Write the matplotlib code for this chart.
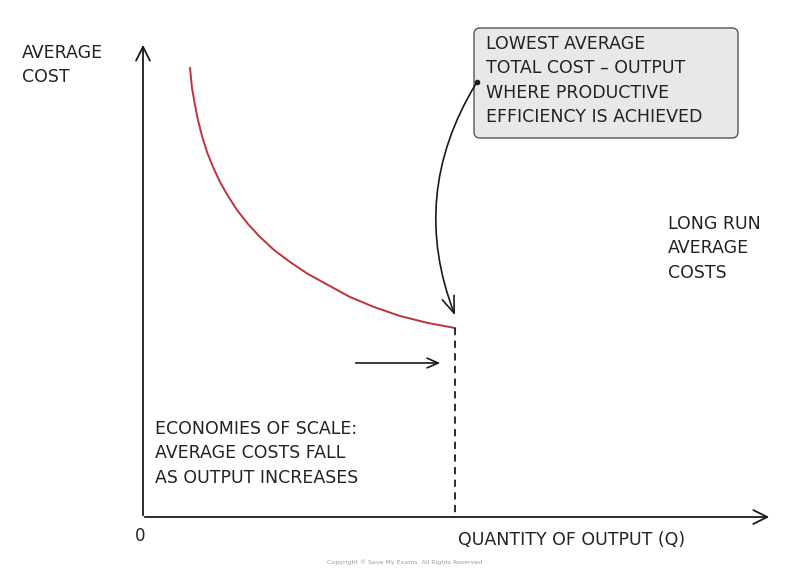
import matplotlib
matplotlib.use("Agg")
import matplotlib.pyplot as plt
from matplotlib.patches import FancyBboxPatch

# Long run average cost curve (pixel-like units: x right, y down)
quantity = [190, 192, 195, 198, 202, 207, 213, 220, 228, 237, 248, 260, 274, 290, 308, 328, 350, 374, 400, 428, 455]
avg_cost = [68, 88, 105, 120, 136, 152, 167, 182, 196, 210, 224, 237, 250, 262, 274, 285, 297, 307, 316, 323, 328]
min_q = 455
min_c = 328

fig = plt.figure(figsize=(8, 5.72), dpi=100)
ax = fig.add_axes([0, 0, 1, 1])
ax.set_xlim(0, 800)
ax.set_ylim(572, 0)
ax.axis("off")

font = dict(family="DejaVu Sans", color="#222222")
k = "#1a1a1a"
ax.annotate("", xy=(143, 42), xytext=(143, 518),
            arrowprops=dict(arrowstyle="->,head_length=1.0,head_width=0.5", color=k, lw=1.3))
ax.annotate("", xy=(772, 517), xytext=(142, 517),
            arrowprops=dict(arrowstyle="->,head_length=1.0,head_width=0.5", color=k, lw=1.3))

ax.plot(quantity, avg_cost, color="#c0313b", lw=1.4, solid_joinstyle="round")
ax.plot([min_q, min_q], [min_c, 517], color=k, lw=1.3, ls=(0, (4, 3)))

ax.annotate("", xy=(443, 363), xytext=(353, 363),
            arrowprops=dict(arrowstyle="->,head_length=0.8,head_width=0.35", color=k, lw=1.2))

box = FancyBboxPatch((474, 28), 264, 110, boxstyle="round,pad=0,rounding_size=6",
                     fc="#e8e8e8", ec="#555555", lw=1.0)
ax.add_patch(box)
ax.text(486, 35, "LOWEST AVERAGE\nTOTAL COST – OUTPUT\nWHERE PRODUCTIVE\nEFFICIENCY IS ACHIEVED",
        va="top", ha="left", fontsize=12.5, linespacing=1.45, **font)
ax.plot([477], [82], marker="o", ms=3, color=k)
ax.annotate("", xy=(456, 318), xytext=(477, 82),
            arrowprops=dict(arrowstyle="->,head_length=1.2,head_width=0.45", color=k, lw=1.2,
                            connectionstyle="arc3,rad=0.25"))

ax.text(22, 44, "AVERAGE\nCOST", va="top", ha="left", fontsize=12.5, linespacing=1.4, **font)
ax.text(668, 215, "LONG RUN\nAVERAGE\nCOSTS", va="top", ha="left", fontsize=12.5, linespacing=1.45, **font)
ax.text(155, 420, "ECONOMIES OF SCALE:\nAVERAGE COSTS FALL\nAS OUTPUT INCREASES", va="top", ha="left",
        fontsize=12.5, linespacing=1.45, **font)
ax.text(135, 527, "0", va="top", ha="left", fontsize=12, **font)
ax.text(458, 531, "QUANTITY OF OUTPUT (Q)", va="top", ha="left", fontsize=12.5, **font)
ax.text(405, 562, "Copyright © Save My Exams. All Rights Reserved", ha="center", va="center",
        fontsize=4.5, color="#999999")

fig.savefig("out.png", dpi=100)
